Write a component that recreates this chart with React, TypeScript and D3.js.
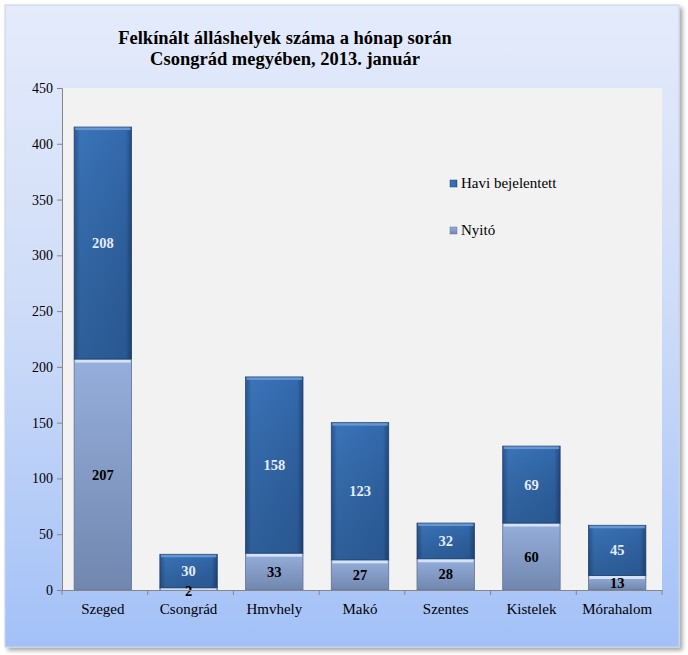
import { useEffect, useRef } from 'react';
import * as d3 from 'd3';

const categories = ['Szeged', 'Csongrád', 'Hmvhely', 'Makó', 'Szentes', 'Kistelek', 'Mórahalom'];
const nyito = [207, 2, 33, 27, 28, 60, 13];
const havi = [208, 30, 158, 123, 32, 69, 45];
const yTicks = [0, 50, 100, 150, 200, 250, 300, 350, 400, 450];

const W = 688;
const H = 655;
const FONT = '"Liberation Serif", "Times New Roman", serif';

export default function App() {
  const svgRef = useRef<SVGSVGElement>(null);

  useEffect(() => {
    if (!svgRef.current) return;
    const svg = d3.select(svgRef.current);
    svg.selectAll('*').remove();

    const defs = svg.append('defs');

    const bg = defs.append('linearGradient').attr('id', 'bg').attr('x1', 0).attr('y1', 0).attr('x2', 0).attr('y2', 1);
    bg.append('stop').attr('offset', '0%').attr('stop-color', '#e4ebfb');
    bg.append('stop').attr('offset', '45%').attr('stop-color', '#d0ddf8');
    bg.append('stop').attr('offset', '100%').attr('stop-color', '#a3c1f7');

    const gHavi = defs.append('linearGradient').attr('id', 'gHavi').attr('x1', 0).attr('y1', 0).attr('x2', 1).attr('y2', 0);
    gHavi.append('stop').attr('offset', '0%').attr('stop-color', '#2a5690');
    gHavi.append('stop').attr('offset', '10%').attr('stop-color', '#3a74b9');
    gHavi.append('stop').attr('offset', '90%').attr('stop-color', '#336aae');
    gHavi.append('stop').attr('offset', '100%').attr('stop-color', '#244a7c');

    const gHaviV = defs.append('linearGradient').attr('id', 'gHaviV').attr('x1', 0).attr('y1', 0).attr('x2', 0).attr('y2', 1);
    gHaviV.append('stop').attr('offset', '0%').attr('stop-color', '#000').attr('stop-opacity', 0);
    gHaviV.append('stop').attr('offset', '100%').attr('stop-color', '#0b1e3a').attr('stop-opacity', 0.25);

    const gNy = defs.append('linearGradient').attr('id', 'gNy').attr('x1', 0).attr('y1', 0).attr('x2', 0).attr('y2', 1);
    gNy.append('stop').attr('offset', '0%').attr('stop-color', '#95aedb');
    gNy.append('stop').attr('offset', '100%').attr('stop-color', '#7187af');

    const shadow = defs.append('filter').attr('id', 'shadow').attr('x', '-5%').attr('y', '-5%').attr('width', '115%').attr('height', '115%');
    shadow.append('feDropShadow').attr('dx', 3).attr('dy', 3).attr('stdDeviation', 2).attr('flood-color', '#000').attr('flood-opacity', 0.35);

    // chart background
    svg.append('rect')
      .attr('x', 5).attr('y', 5).attr('width', 674).attr('height', 642)
      .attr('fill', 'url(#bg)')
      .attr('stroke', '#c8d4ea')
      .attr('filter', 'url(#shadow)');

    const margin = { left: 62, right: 662, top: 88, bottom: 590 };

    const x = d3.scaleBand<string>()
      .domain(categories)
      .range([margin.left, margin.right])
      .paddingInner(0.33)
      .paddingOuter(0.165);

    const y = d3.scaleLinear().domain([0, 450]).range([margin.bottom, margin.top]);

    // plot area
    svg.append('rect')
      .attr('x', margin.left).attr('y', margin.top)
      .attr('width', margin.right - margin.left)
      .attr('height', margin.bottom - margin.top)
      .attr('fill', '#f2f2f2');

    // title
    const title = svg.append('text')
      .attr('text-anchor', 'middle')
      .style('font-family', FONT)
      .attr('font-weight', 'bold')
      .attr('font-size', 18.5)
      .attr('fill', '#000');
    title.append('tspan').attr('x', 285).attr('y', 44).text('Felkínált álláshelyek száma a hónap során');
    title.append('tspan').attr('x', 285).attr('y', 65).text('Csongrád megyében, 2013. január');

    const bw = x.bandwidth();
    const shift = -2;

    categories.forEach((c, i) => {
      const x0 = x(c)! + shift;
      const yN = y(nyito[i]);
      const yT = y(nyito[i] + havi[i]);
      const g = svg.append('g');

      // nyitó segment
      g.append('rect')
        .attr('x', x0).attr('y', yN)
        .attr('width', bw).attr('height', y(0) - yN)
        .attr('fill', 'url(#gNy)')
        .attr('stroke', '#5f7396').attr('stroke-width', 0.8);
      g.append('rect')
        .attr('x', x0 + 1).attr('y', yN + 0.5)
        .attr('width', bw - 2).attr('height', Math.min(3, y(0) - yN))
        .attr('fill', '#dbe8fb').attr('opacity', 0.9);

      // havi segment
      g.append('rect')
        .attr('x', x0).attr('y', yT)
        .attr('width', bw).attr('height', yN - yT)
        .attr('fill', 'url(#gHavi)')
        .attr('stroke', '#22467a').attr('stroke-width', 0.8);
      g.append('rect')
        .attr('x', x0).attr('y', yT)
        .attr('width', bw).attr('height', yN - yT)
        .attr('fill', 'url(#gHaviV)');
      g.append('rect')
        .attr('x', x0 + 1).attr('y', yT + 0.5)
        .attr('width', bw - 2).attr('height', 2.5)
        .attr('fill', '#6e9ad2').attr('opacity', 0.9);

      // labels
      g.append('text')
        .attr('x', x0 + bw / 2)
        .attr('y', (yT + yN) / 2 + 5)
        .attr('text-anchor', 'middle')
        .style('font-family', FONT)
        .attr('font-weight', 'bold')
        .attr('font-size', 14.5)
        .attr('fill', '#e3ecf8')
        .text(havi[i]);
      const midN = (yN + y(0)) / 2;
      g.append('text')
        .attr('x', x0 + bw / 2)
        .attr('y', nyito[i] < 10 ? y(0) + 6 : midN + 5)
        .attr('text-anchor', 'middle')
        .style('font-family', FONT)
        .attr('font-weight', 'bold')
        .attr('font-size', 14.5)
        .attr('fill', '#000')
        .text(nyito[i]);
    });

    // y axis
    const yAxis = svg.append('g')
      .attr('transform', `translate(${margin.left},0)`)
      .call(d3.axisLeft(y).tickValues(yTicks).tickSize(5).tickPadding(4));
    yAxis.attr('font-family', null).attr('font-size', null);
    yAxis.select('.domain').attr('stroke', '#868686');
    yAxis.selectAll('.tick line').attr('stroke', '#868686');
    yAxis.selectAll('.tick text')
      .style('font-family', FONT).attr('font-size', 14).attr('fill', '#000');

    // x axis
    const xAxis = svg.append('g')
      .attr('transform', `translate(0,${margin.bottom})`)
      .call(d3.axisBottom(x).tickSize(0).tickPadding(13));
    xAxis.attr('font-family', null).attr('font-size', null);
    xAxis.selectAll('.tick').attr('transform', function () {
      const t = d3.select(this).attr('transform');
      const m = /translate\(([-\d.]+),/.exec(t || '');
      return m ? `translate(${+m[1] + shift},0)` : t;
    });
    xAxis.select('.domain').attr('stroke', '#868686');
    xAxis.selectAll('.tick text')
      .style('font-family', FONT).attr('font-size', 15).attr('fill', '#000');
    const step = x.step();
    const bounds = d3.range(categories.length + 1).map(k => margin.left + k * step);
    xAxis.selectAll('line.bound')
      .data(bounds)
      .join('line')
      .attr('class', 'bound')
      .attr('x1', d => d).attr('x2', d => d)
      .attr('y1', 0).attr('y2', 5)
      .attr('stroke', '#868686');

    // legend
    const legendItems = [
      { label: 'Havi bejelentett', fill: 'url(#gHavi)', stroke: '#22467a', y: 187 },
      { label: 'Nyitó', fill: 'url(#gNy)', stroke: '#5f7396', y: 234 },
    ];
    const lg = svg.append('g');
    legendItems.forEach(item => {
      lg.append('rect')
        .attr('x', 450).attr('y', item.y - 7)
        .attr('width', 7).attr('height', 7)
        .attr('fill', item.fill).attr('stroke', item.stroke).attr('stroke-width', 0.5);
      lg.append('text')
        .attr('x', 461).attr('y', item.y + 1)
        .style('font-family', FONT).attr('font-size', 15).attr('fill', '#000')
        .text(item.label);
    });
  }, []);

  return (
    <div style={{ position: 'absolute', left: 0, top: 0 }}>
      <svg ref={svgRef} width={W} height={H} />
    </div>
  );
}
